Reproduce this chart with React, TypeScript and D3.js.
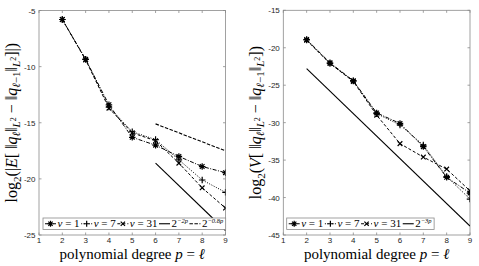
import React from 'react';
import * as d3 from 'd3';

// polynomial degree p = l
const degrees = [2, 3, 4, 5, 6, 7, 8, 9];

// left panel: log2 |E[...]|
const meanNu1 = [-5.8, -9.35, -13.4, -16.3, -17.0, -18.0, -18.9, -19.45];
const meanNu7 = [-5.8, -9.35, -13.6, -15.8, -16.5, -18.3, -20.1, -21.2];
const meanNu31 = [-5.8, -9.4, -13.7, -15.9, -16.6, -18.6, -20.8, -22.6];
const meanRefSteepP = [6, 9];
const meanRefSteep = [-18.6, -24.6];
const meanRefFlatP = [6, 9];
const meanRefFlat = [-15.1, -17.5];

// right panel: log2 V[...]
const varNu1 = [-18.9, -22.0, -24.4, -28.7, -30.1, -33.2, -37.3, -39.4];
const varNu7 = [-18.95, -22.1, -24.45, -28.8, -30.3, -33.0, -37.2, -40.2];
const varNu31 = [-19.0, -22.1, -24.5, -29.0, -32.8, -34.6, -36.2, -39.1];
const varRefP = [2, 9];
const varRef = [-22.8, -43.8];

const xTicks = [1, 2, 3, 4, 5, 6, 7, 8, 9];
const meanYTicks = [-25, -20, -15, -10, -5];
const varYTicks = [-45, -40, -35, -30, -25, -20, -15];

const SERIF = "'Liberation Serif', 'Times New Roman', serif";
const SANS = "'Liberation Sans', Arial, sans-serif";

type Marker = '*' | '+' | 'x';

function markerPath(m: Marker, s: number) {
  const h = s / 2;
  const d = h * 0.72;
  if (m === '+') return `M${-h},0H${h}M0,${-h}V${h}`;
  if (m === 'x') return `M${-d},${-d}L${d},${d}M${-d},${d}L${d},${-d}`;
  return `M${-h},0H${h}M0,${-h}V${h}M${-d},${-d}L${d},${d}M${-d},${d}L${d},${-d}`;
}

const styles = {
  nu1: { dash: '4,1.5,1,1.5', marker: '*' as Marker },
  nu7: { dash: '1,1.5', marker: '+' as Marker },
  nu31: { dash: '3,2', marker: 'x' as Marker },
};

function measure(txt: string, font: string) {
  const c = document.createElement('canvas').getContext('2d')!;
  c.font = font;
  return c.measureText(txt).width;
}

type Series = { values: number[]; dash: string; marker: Marker };
type Ref = { p: number[]; values: number[]; dash: string };
type LegendItem = { kind: 'nu' | 'ref'; label: string; sup?: string; dash: string; marker?: Marker };

const LEG_FS = 11;
const SUP_FS = 6.5;

function Panel(props: {
  id: string;
  x0: number;
  x1: number;
  y0: number;
  y1: number;
  yDomain: [number, number];
  yTicks: number[];
  series: Series[];
  refs: Ref[];
  legend: LegendItem[];
  legendX: number;
  yLabel: React.ReactNode;
}) {
  const { x0, x1, y0, y1 } = props;
  const x = d3.scaleLinear().domain([1, 9]).range([x0, x1]);
  const y = d3.scaleLinear().domain(props.yDomain).range([y1, y0]);
  const line = d3
    .line<[number, number]>()
    .x((d) => x(d[0]))
    .y((d) => y(d[1]));
  const axisColor = '#8a8a8a';
  const tickLen = 2.5;

  // legend layout
  const legFont = `${LEG_FS}px ${SERIF}`;
  const sampleW = 11;
  let cx = props.legendX + 2;
  const items = props.legend.map((it) => {
    const start = cx;
    const textW =
      it.kind === 'nu'
        ? measure('ν = ' + it.label, legFont)
        : measure('2', legFont) + measure(it.sup || '', `italic ${SUP_FS}px ${SERIF}`);
    cx += sampleW + 1.5 + textW + 1.5;
    return { ...it, start };
  });
  const legW = cx - props.legendX + 1;
  const legY = 218;
  const legH = 11.5;

  return (
    <g>
      <defs>
        <clipPath id={props.id}>
          <rect x={x0} y={y0} width={x1 - x0} height={y1 - y0} />
        </clipPath>
      </defs>
      <rect x={x0} y={y0} width={x1 - x0} height={y1 - y0} fill="#fff" stroke={axisColor} strokeWidth={0.8} />
      {xTicks.map((t) => (
        <g key={'x' + t}>
          <line x1={x(t)} x2={x(t)} y1={y1} y2={y1 - tickLen} stroke={axisColor} strokeWidth={0.8} />
          <line x1={x(t)} x2={x(t)} y1={y0} y2={y0 + tickLen} stroke={axisColor} strokeWidth={0.8} />
          <text x={x(t)} y={y1 + 7.5} fontSize={8} fontFamily={SANS} fill="#262626" textAnchor="middle">
            {t}
          </text>
        </g>
      ))}
      {props.yTicks.map((t) => (
        <g key={'y' + t}>
          <line x1={x0} x2={x0 + tickLen} y1={y(t)} y2={y(t)} stroke={axisColor} strokeWidth={0.8} />
          <line x1={x1} x2={x1 - tickLen} y1={y(t)} y2={y(t)} stroke={axisColor} strokeWidth={0.8} />
          <text x={x0 - 3.5} y={y(t) + 3} fontSize={8} fontFamily={SANS} fill="#262626" textAnchor="end">
            {t}
          </text>
        </g>
      ))}
      <g clipPath={`url(#${props.id})`}>
        {props.refs.map((r, i) => (
          <path
            key={'r' + i}
            d={line(r.p.map((p, j) => [p, r.values[j]] as [number, number])) || ''}
            fill="none"
            stroke="#000"
            strokeWidth={1.1}
            strokeDasharray={r.dash}
          />
        ))}
        {props.series.map((s, i) => (
          <g key={'s' + i}>
            <path
              d={line(degrees.map((p, j) => [p, s.values[j]] as [number, number])) || ''}
              fill="none"
              stroke="#000"
              strokeWidth={1}
              strokeDasharray={s.dash}
            />
            {degrees.map((p, j) => (
              <path
                key={j}
                transform={`translate(${x(p)},${y(s.values[j])})`}
                d={markerPath(s.marker, 6.5)}
                stroke="#000"
                strokeWidth={1.2}
                fill="none"
              />
            ))}
          </g>
        ))}
      </g>
      <rect x={props.legendX} y={legY} width={legW} height={legH} fill="#fff" stroke={axisColor} strokeWidth={0.8} />
      {items.map((it, i) => {
        const ly = legY + legH / 2;
        return (
          <g key={'l' + i}>
            <line
              x1={it.start}
              x2={it.start + sampleW}
              y1={ly}
              y2={ly}
              stroke="#000"
              strokeWidth={1.1}
              strokeDasharray={it.dash}
            />
            {it.marker && (
              <path
                transform={`translate(${it.start + sampleW / 2},${ly})`}
                d={markerPath(it.marker, 6)}
                stroke="#000"
                strokeWidth={1.2}
                fill="none"
              />
            )}
            <text x={it.start + sampleW + 1.5} y={ly + 3.5} fontSize={LEG_FS} fontFamily={SERIF}>
              {it.kind === 'nu' ? (
                <>
                  <tspan fontStyle="italic">ν</tspan>
                  <tspan> = {it.label}</tspan>
                </>
              ) : (
                <>
                  <tspan>2</tspan>
                  <tspan fontSize={SUP_FS} dy={-4} fontStyle="italic">
                    {it.sup}
                  </tspan>
                </>
              )}
            </text>
          </g>
        );
      })}
      <text x={(x0 + x1) / 2} y={259} fontSize={15} fontFamily={SERIF} textAnchor="middle">
        polynomial degree <tspan fontStyle="italic">p</tspan> = <tspan fontStyle="italic">ℓ</tspan>
      </text>
      <text
        transform={`translate(${x0 - 22},${(y0 + y1) / 2}) rotate(-90)`}
        fontSize={16}
        fontFamily={SERIF}
        textAnchor="middle"
      >
        {props.yLabel}
      </text>
    </g>
  );
}

function normLabel(op: string, abs: boolean) {
  return (
    <>
      log<tspan fontSize={11} dy={4}>2</tspan>
      <tspan dy={-4}>{abs ? '(|' : '('}</tspan>
      <tspan fontStyle="italic">{op}</tspan>[ ‖<tspan fontStyle="italic">q</tspan>
      <tspan fontSize={11} dy={3} fontStyle="italic">ℓ</tspan>
      <tspan dy={-3}>‖</tspan>
      <tspan fontSize={11} dy={3} fontStyle="italic">L</tspan>
      <tspan fontSize={8} dy={-4}>2</tspan>
      <tspan dy={1}> − ‖</tspan>
      <tspan fontStyle="italic">q</tspan>
      <tspan fontSize={11} dy={3} fontStyle="italic">ℓ</tspan>
      <tspan fontSize={11}>−1</tspan>
      <tspan dy={-3}>‖</tspan>
      <tspan fontSize={11} dy={3} fontStyle="italic">L</tspan>
      <tspan fontSize={8} dy={-4}>2</tspan>
      <tspan dy={1}>{abs ? ']|)' : '])'}</tspan>
    </>
  );
}

export default function App() {
  return (
    <svg width={479} height={266} style={{ position: 'absolute', left: 0, top: 0, background: '#fff' }}>
      <Panel
        id="clipMean"
        x0={39}
        x1={225.5}
        y0={10.5}
        y1={235}
        yDomain={[-25, -5]}
        yTicks={meanYTicks}
        series={[
          { values: meanNu1, ...styles.nu1 },
          { values: meanNu7, ...styles.nu7 },
          { values: meanNu31, ...styles.nu31 },
        ]}
        refs={[
          { p: meanRefSteepP, values: meanRefSteep, dash: '' },
          { p: meanRefFlatP, values: meanRefFlat, dash: '3.5,1.5' },
        ]}
        legend={[
          { kind: 'nu', label: '1', dash: styles.nu1.dash, marker: '*' },
          { kind: 'nu', label: '7', dash: styles.nu7.dash, marker: '+' },
          { kind: 'nu', label: '31', dash: styles.nu31.dash, marker: 'x' },
          { kind: 'ref', label: '', sup: '−2p', dash: '' },
          { kind: 'ref', label: '', sup: '−0.8p', dash: '3.5,1.5' },
        ]}
        legendX={43}
        yLabel={normLabel('E', true)}
      />
      <Panel
        id="clipVar"
        x0={283.3}
        x1={470}
        y0={10.3}
        y1={235}
        yDomain={[-45, -15]}
        yTicks={varYTicks}
        series={[
          { values: varNu1, ...styles.nu1 },
          { values: varNu7, ...styles.nu7 },
          { values: varNu31, ...styles.nu31 },
        ]}
        refs={[{ p: varRefP, values: varRef, dash: '' }]}
        legend={[
          { kind: 'nu', label: '1', dash: styles.nu1.dash, marker: '*' },
          { kind: 'nu', label: '7', dash: styles.nu7.dash, marker: '+' },
          { kind: 'nu', label: '31', dash: styles.nu31.dash, marker: 'x' },
          { kind: 'ref', label: '', sup: '−3p', dash: '' },
        ]}
        legendX={286.7}
        yLabel={normLabel('V', false)}
      />
    </svg>
  );
}
